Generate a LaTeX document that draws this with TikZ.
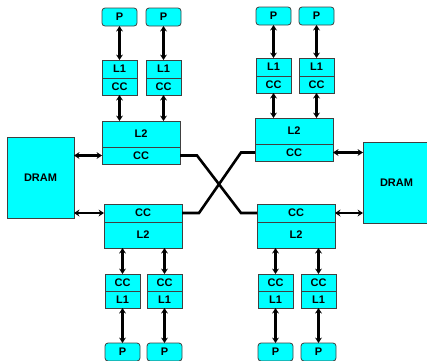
\documentclass[tikz,border=0pt]{standalone}
\usepackage{fontspec}
\setmainfont{Liberation Sans}
\usetikzlibrary{arrows.meta,positioning}
\definecolor{boxcyan}{RGB}{0,255,255}

\begin{document}
\begin{tikzpicture}[x=1pt, y=-1pt, font=\fontsize{11}{12}\selectfont\bfseries,
blk/.style={draw=black!75,line width=0.8pt,fill=boxcyan,inner sep=0pt,outer sep=0pt,anchor=north west},
pbox/.style={blk,rounded corners=3pt,minimum width=35pt,minimum height=18pt},
half/.style={blk,minimum width=35pt,minimum height=17pt},
bighalf/.style={blk,minimum width=78pt,minimum height=17pt},
l2part/.style={blk,minimum width=78pt,minimum height=26pt},
dram/.style={blk,minimum width=67pt,minimum height=81pt},
arr/.style={line width=2.4pt,{Stealth[length=5.5pt,width=7pt,line width=0pt]}-{Stealth[length=5.5pt,width=7pt,line width=0pt]}},
link/.style={line width=2.6pt,line join=miter}]
\useasboundingbox (0,0) rectangle (427,360);
% memories
\node[dram] (dramL) at (7,137) {DRAM};
\node[dram] (dramR) at (363,142) {DRAM};
% top left cluster
\node[pbox] (tlp1) at (102,8) {P};
\node[pbox] (tlp2) at (146,8) {P};
\node[half,minimum height=18pt] (tll1a) at (102,60) {L1};
\node[half,below=0pt of tll1a.south west,anchor=north west] (tlcca) {CC};
\node[half,minimum height=18pt] (tll1b) at (146,60) {L1};
\node[half,below=0pt of tll1b.south west,anchor=north west] (tlccb) {CC};
\node[l2part] (tll2) at (102,121) {L2};
\node[bighalf,below=0pt of tll2.south west,anchor=north west] (tlcc) {CC};
% top right cluster
\node[pbox] (trp1) at (256,7) {P};
\node[pbox] (trp2) at (299,7) {P};
\node[half,minimum height=18pt] (trl1a) at (256,58) {L1};
\node[half,below=0pt of trl1a.south west,anchor=north west] (trcca) {CC};
\node[half,minimum height=18pt] (trl1b) at (299,58) {L1};
\node[half,below=0pt of trl1b.south west,anchor=north west] (trccb) {CC};
\node[l2part] (trl2) at (255,118) {L2};
\node[bighalf,below=0pt of trl2.south west,anchor=north west] (trcc) {CC};
% bottom left cluster
\node[bighalf,minimum height=18pt] (blcc) at (104,204) {CC};
\node[l2part,below=0pt of blcc.south west,anchor=north west] (bll2) {L2};
\node[half] (blcca) at (105,274) {CC};
\node[half,below=0pt of blcca.south west,anchor=north west] (bll1a) {L1};
\node[half] (blccb) at (147,274) {CC};
\node[half,below=0pt of blccb.south west,anchor=north west] (bll1b) {L1};
\node[pbox] (blp1) at (105,343) {P};
\node[pbox] (blp2) at (147,343) {P};
% bottom right cluster
\node[bighalf,minimum height=18pt] (brcc) at (257,204) {CC};
\node[l2part,below=0pt of brcc.south west,anchor=north west] (brl2) {L2};
\node[half] (brcca) at (258,274) {CC};
\node[half,below=0pt of brcca.south west,anchor=north west] (brl1a) {L1};
\node[half] (brccb) at (301,274) {CC};
\node[half,below=0pt of brccb.south west,anchor=north west] (brl1b) {L1};
\node[pbox] (brp1) at (258,343) {P};
\node[pbox] (brp2) at (301,343) {P};
% processor to L1
\draw[arr] (tlp1) -- (tll1a);
\draw[arr] (tlp2) -- (tll1b);
\draw[arr] (trp1) -- (trl1a);
\draw[arr] (trp2) -- (trl1b);
\draw[arr] (blp1) -- (bll1a);
\draw[arr] (blp2) -- (bll1b);
\draw[arr] (brp1) -- (brl1a);
\draw[arr] (brp2) -- (brl1b);
% L1 to L2
\draw[arr] (tlcca) -- (tll2.north -| tlcca.south);
\draw[arr] (tlccb) -- (tll2.north -| tlccb.south);
\draw[arr] (trcca) -- (trl2.north -| trcca.south);
\draw[arr] (trccb) -- (trl2.north -| trccb.south);
\draw[arr] (blcca) -- (bll2.south -| blcca.north);
\draw[arr] (blccb) -- (bll2.south -| blccb.north);
\draw[arr] (brcca) -- (brl2.south -| brcca.north);
\draw[arr] (brccb) -- (brl2.south -| brccb.north);
% L2 to DRAM
\draw[arr] (dramL.east |- tlcc) -- (tlcc);
\draw[arr] (dramL.east |- blcc) -- (blcc);
\draw[arr] (trcc) -- (dramR.west |- trcc);
\draw[arr] (brcc) -- (dramR.west |- brcc);
% crossed links
\draw[link] (tlcc.east) -- ++(17,0) -- ([xshift=-16pt]brcc.west) -- (brcc.west);
\draw[link] (blcc.east) -- ++(17,0) -- ([xshift=-14pt]trcc.west) -- (trcc.west);
\end{tikzpicture}
\end{document}
